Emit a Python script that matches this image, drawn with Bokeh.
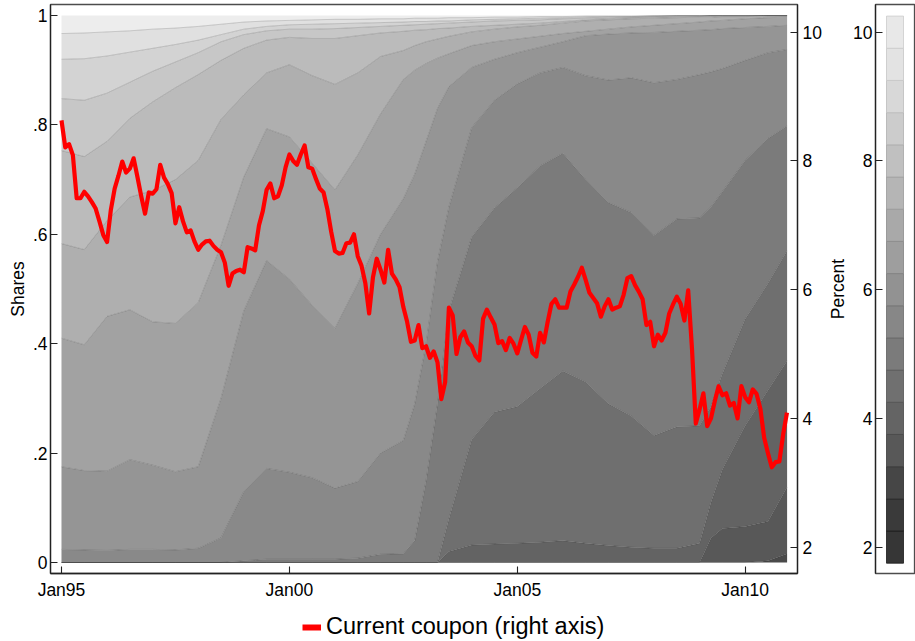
from bokeh.plotting import figure
from bokeh.models import Range1d, LinearAxis, FixedTicker, Legend, LegendItem
from bokeh.layouts import row, column
from bokeh.embed import file_html
from bokeh.resources import INLINE

FONT = "Liberation Sans"

# ---------------- data ----------------
knot_years = [1995.0, 1995.5, 1996.0, 1996.5, 1997.0, 1997.5, 1998.0, 1998.5, 1999.0, 1999.5,
              2000.0, 2000.5, 2001.0, 2001.5, 2002.0, 2002.5, 2002.75, 2003.0, 2003.25, 2003.5,
              2004.0, 2004.5, 2005.0, 2005.5, 2006.0, 2006.5, 2007.0, 2007.5, 2008.0, 2008.5,
              2009.0, 2009.25, 2009.5, 2010.0, 2010.5, 2010.92]

# cumulative share of outstanding MBS with coupon <= level
cum_le_3_0 = [0]*33 + [0.0, 0.003, 0.016]
cum_le_3_5 = [0]*30 + [0.0, 0.045, 0.062, 0.066, 0.075, 0.138]
cum_le_4_0 = [0]*19 + [0.02, 0.032, 0.034, 0.035, 0.037, 0.04, 0.035, 0.031, 0.028, 0.026, 0.026,
                       0.035, 0.11, 0.17, 0.25, 0.315, 0.369]
cum_le_4_5 = [0]*19 + [0.08, 0.225, 0.275, 0.285, 0.318, 0.35, 0.33, 0.29, 0.268, 0.232, 0.248,
                       0.25, 0.285, 0.345, 0.445, 0.51, 0.57]
cum_le_5_0 = [0]*8 + [0.003, 0.006, 0.006, 0.006, 0.006, 0.008, 0.015, 0.016, 0.04, 0.15, 0.29, 0.46,
                      0.595, 0.648, 0.685, 0.725, 0.748, 0.70, 0.658, 0.64, 0.598, 0.628,
                      0.63, 0.65, 0.678, 0.735, 0.775, 0.798]
cum_le_5_5 = [0.024, 0.023, 0.022, 0.024, 0.024, 0.023, 0.026, 0.045, 0.13, 0.172,
              0.165, 0.155, 0.136, 0.148, 0.20, 0.223, 0.29, 0.40, 0.55, 0.65,
              0.795, 0.845, 0.875, 0.895, 0.905, 0.89, 0.882, 0.886, 0.877, 0.883,
              0.892, 0.897, 0.903, 0.918, 0.932, 0.938]
cum_le_6_0 = [0.175, 0.168, 0.167, 0.188, 0.178, 0.166, 0.175, 0.30, 0.46, 0.552,
              0.518, 0.47, 0.428, 0.51, 0.60, 0.665, 0.71, 0.77, 0.83, 0.87,
              0.905, 0.92, 0.932, 0.942, 0.952, 0.963, 0.966, 0.968, 0.969, 0.971,
              0.973, 0.974, 0.976, 0.978, 0.98, 0.982]
cum_le_6_5 = [0.41, 0.398, 0.45, 0.462, 0.44, 0.437, 0.475, 0.58, 0.705, 0.793,
              0.778, 0.73, 0.681, 0.745, 0.82, 0.883, 0.9, 0.912, 0.922, 0.93,
              0.945, 0.952, 0.957, 0.962, 0.967, 0.971, 0.975, 0.979, 0.982, 0.985,
              0.988, 0.99, 0.991, 0.994, 0.996, 0.997]
cum_le_7_0 = [0.583, 0.572, 0.625, 0.668, 0.68, 0.70, 0.735, 0.81, 0.855, 0.895,
              0.91, 0.89, 0.874, 0.895, 0.925, 0.936, 0.945, 0.952, 0.957, 0.962,
              0.97, 0.975, 0.979, 0.982, 0.986, 0.99, 0.992, 0.994, 0.995, 0.996,
              0.997, 0.997, 0.998, 0.998, 0.999, 0.999]
cum_le_7_5 = [0.753, 0.742, 0.77, 0.812, 0.842, 0.868, 0.892, 0.918, 0.94, 0.955,
              0.96, 0.958, 0.958, 0.963, 0.968, 0.971, 0.973, 0.974, 0.976, 0.977,
              0.98, 0.982, 0.984, 0.986, 0.989, 0.992, 0.994, 0.996, 0.997, 0.998,
              0.998, 0.999, 0.999, 0.999, 1.0, 1.0]
cum_le_8_0 = [0.848, 0.845, 0.858, 0.878, 0.898, 0.915, 0.932, 0.952, 0.965, 0.972,
              0.975, 0.975, 0.976, 0.978, 0.98, 0.982, 0.983, 0.984, 0.985, 0.986,
              0.988, 0.99, 0.991, 0.992, 0.994, 0.995, 0.996, 0.997, 0.998, 0.999,
              0.999, 1.0, 1.0, 1.0, 1.0, 1.0]
cum_le_8_5 = [0.92, 0.921, 0.926, 0.933, 0.94, 0.947, 0.955, 0.965, 0.975, 0.98,
              0.983, 0.984, 0.985, 0.986, 0.987, 0.988, 0.989, 0.989, 0.99, 0.99,
              0.992, 0.993, 0.994, 0.995, 0.996, 0.997, 0.998, 0.998, 0.999, 1.0,
              1.0, 1.0, 1.0, 1.0, 1.0, 1.0]
cum_le_9_0 = [0.967, 0.968, 0.97, 0.972, 0.975, 0.977, 0.98, 0.984, 0.988, 0.99,
              0.991, 0.992, 0.993, 0.993, 0.994, 0.994, 0.995, 0.995, 0.995, 0.996,
              0.996, 0.997, 0.997, 0.998, 0.998, 0.999, 0.999, 0.999, 1.0, 1.0,
              1.0, 1.0, 1.0, 1.0, 1.0, 1.0]

cum_shares = [cum_le_3_0, cum_le_3_5, cum_le_4_0, cum_le_4_5, cum_le_5_0, cum_le_5_5,
              cum_le_6_0, cum_le_6_5, cum_le_7_0, cum_le_7_5, cum_le_8_0, cum_le_8_5, cum_le_9_0]

# current coupon (percent), monthly Jan 1995 - Dec 2010
coupon_start_year = 1995.0
current_coupon = [
    8.63, 8.21, 8.26, 8.09, 7.42, 7.42, 7.52, 7.45, 7.36, 7.26, 7.06, 6.85,
    6.74, 7.24, 7.57, 7.77, 7.99, 7.82, 7.88, 8.04, 7.75, 7.45, 7.18, 7.51,
    7.49, 7.56, 7.94, 7.74, 7.64, 7.50, 7.03, 7.28, 7.06, 6.89, 6.92, 6.75,
    6.62, 6.70, 6.75, 6.76, 6.68, 6.62, 6.58, 6.42, 6.06, 6.25, 6.29, 6.31,
    6.27, 6.66, 6.64, 6.61, 7.00, 7.22, 7.55, 7.65, 7.42, 7.45, 7.62, 7.90,
    8.10, 8.00, 7.94, 8.10, 8.24, 7.90, 7.88, 7.72, 7.57, 7.51, 7.25, 6.90,
    6.60, 6.56, 6.57, 6.72, 6.73, 6.86, 6.52, 6.37, 6.10, 5.63, 6.19, 6.48,
    6.31, 6.11, 6.62, 6.25, 6.16, 6.04, 5.73, 5.50, 5.19, 5.21, 5.45, 5.09,
    5.12, 4.94, 5.04, 4.87, 4.30, 4.56, 5.72, 5.60, 5.00, 5.26, 5.35, 5.18,
    5.12, 4.97, 4.90, 5.55, 5.69, 5.57, 5.46, 5.17, 5.20, 5.06, 5.25, 5.16,
    5.01, 5.22, 5.42, 5.30, 5.02, 4.96, 5.33, 5.18, 5.50, 5.78, 5.85, 5.72,
    5.72, 5.72, 5.97, 6.08, 6.20, 6.34, 6.15, 5.95, 5.87, 5.79, 5.58, 5.74,
    5.85, 5.69, 5.72, 5.74, 5.92, 6.18, 6.21, 6.07, 5.97, 5.85, 5.45, 5.50,
    5.12, 5.30, 5.21, 5.33, 5.63, 5.77, 5.89, 5.78, 5.52, 5.99, 5.08, 3.92,
    4.14, 4.39, 3.88, 4.00, 4.27, 4.50, 4.36, 4.39, 4.20, 4.24, 4.00, 4.50,
    4.33, 4.25, 4.45, 4.38, 4.15, 3.70, 3.46, 3.24, 3.32, 3.33, 3.75, 4.09,
]

share_ticks = [0, 0.2, 0.4, 0.6, 0.8, 1.0]
share_tick_labels = ["0", ".2", ".4", ".6", ".8", "1"]
date_ticks = [1995, 2000, 2005, 2010]
date_tick_labels = ["Jan95", "Jan00", "Jan05", "Jan10"]
pct_ticks = [2, 4, 6, 8, 10]
colorbar_levels = [2.0, 2.5, 3.0, 3.5, 4.0, 4.5, 5.0, 5.5, 6.0, 6.5, 7.0, 7.5, 8.0, 8.5, 9.0, 9.5, 10.0]
legend_label = "Current coupon (right axis)"

# ---------------- styles ----------------
def gray(v):
    return "#%02x%02x%02x" % (v, v, v)

region_colors = [gray(v) for v in (0x4a, 0x58, 0x63, 0x6f, 0x7b, 0x89, 0x95, 0xa2,
                                   0xaf, 0xbb, 0xc7, 0xd3, 0xe0, 0xed)]
bar_levels_gray = (0x36, 0x3a, 0x46, 0x58, 0x64, 0x70, 0x7b, 0x87, 0x92,
                   0x9e, 0xa9, 0xb5, 0xc0, 0xcc, 0xd8, 0xe3, 0xe8)
bar_colors = [gray(v) for v in bar_levels_gray]
bar_edges = [gray(max(v - 28, 0)) for v in bar_levels_gray]
AX = "#222222"
FS = "17.5px"
PCT_RANGE = (1.59, 10.43)


def style_axis(ax):
    ax.major_tick_in = 7
    ax.major_tick_out = 0
    ax.minor_tick_in = 0
    ax.minor_tick_out = 0
    ax.axis_line_color = AX
    ax.axis_line_width = 1.3
    ax.major_tick_line_color = AX
    ax.major_tick_line_width = 1.1
    ax.major_label_text_font = FONT
    ax.major_label_text_font_size = FS
    ax.major_label_text_color = "black"
    ax.axis_label_text_font = FONT
    ax.axis_label_text_font_size = FS
    ax.axis_label_text_font_style = "normal"
    ax.axis_label_text_color = "black"


# ---------------- main chart ----------------
main = figure(width=824, height=603,
              x_range=Range1d(1994.759, 2011.148), y_range=Range1d(-0.0201, 1.0201),
              output_backend="svg", toolbar_location=None,
              min_border_left=50, min_border_right=26, min_border_top=4, min_border_bottom=30,
              background_fill_color="white", border_fill_color="white")
main.extra_y_ranges = {"pct": Range1d(*PCT_RANGE)}
main.xgrid.visible = False
main.ygrid.visible = False
main.outline_line_color = "#4d4d4d"
main.outline_line_width = 1.3

zeros = [0.0] * len(knot_years)
ones = [1.0] * len(knot_years)
bounds = [zeros] + cum_shares + [ones]
for i in range(len(bounds) - 1):
    main.varea(x=knot_years, y1=bounds[i], y2=bounds[i + 1], fill_color=region_colors[i])
for cum in cum_shares:
    main.line(x=knot_years, y=cum, line_color="black", line_alpha=0.17, line_width=1)

months_x = [coupon_start_year + i / 12.0 for i in range(len(current_coupon))]
main.line(x=months_x, y=current_coupon, y_range_name="pct",
          line_color="#ff0000", line_width=4.2, line_join="round")

xa = main.xaxis[0]
xa.ticker = FixedTicker(ticks=date_ticks)
xa.major_label_overrides = dict(zip(date_ticks, date_tick_labels))
style_axis(xa)
xa.major_label_standoff = 6

ya = main.yaxis[0]
ya.ticker = FixedTicker(ticks=share_ticks)
ya.major_label_overrides = dict(zip(share_ticks, share_tick_labels))
ya.axis_label = "Shares"
style_axis(ya)
ya.major_label_standoff = 3
ya.axis_label_standoff = 2

ra = LinearAxis(y_range_name="pct", ticker=FixedTicker(ticks=pct_ticks))
style_axis(ra)
ra.major_label_standoff = 5
main.add_layout(ra, "right")

# ---------------- colour bar ----------------
cb = figure(width=91, height=603, x_range=Range1d(0, 39), y_range=Range1d(*PCT_RANGE),
            output_backend="svg", toolbar_location=None, x_axis_location=None,
            min_border_left=51, min_border_right=1, min_border_top=4, min_border_bottom=30,
            background_fill_color="white", border_fill_color="white")
cb.xgrid.visible = False
cb.ygrid.visible = False
cb.outline_line_color = "#4d4d4d"
cb.outline_line_width = 1.3
cb.quad(left=11, right=28,
        bottom=[lv - 0.25 for lv in colorbar_levels], top=[lv + 0.25 for lv in colorbar_levels],
        fill_color=bar_colors, line_color=bar_edges, line_width=0.8)
ca = cb.yaxis[0]
ca.ticker = FixedTicker(ticks=pct_ticks)
ca.axis_label = "Percent"
style_axis(ca)
ca.major_label_standoff = 3
ca.axis_label_standoff = 2

# ---------------- legend ----------------
lg = figure(width=915, height=38, x_range=Range1d(0, 1), y_range=Range1d(0, 1),
            output_backend="svg", toolbar_location=None,
            x_axis_location=None, y_axis_location=None, min_border=0,
            outline_line_color=None, background_fill_color="white", border_fill_color="white")
lg.xgrid.visible = False
lg.ygrid.visible = False
# legend proxy: same style as the coupon line, its segment lies outside the visible range
proxy = lg.line(x=[0, 1], y=[-5, -5], line_color="#ff0000", line_width=6)
legend = Legend(items=[LegendItem(label=legend_label, renderers=[proxy])],
                location=(302, 1), orientation="horizontal", padding=0, margin=0,
                border_line_color=None, background_fill_alpha=0,
                glyph_width=19, glyph_height=24, label_standoff=5, label_height=24,
                label_text_font=FONT, label_text_font_size="23.5px", label_text_color="black")
lg.add_layout(legend)

layout = column(row(main, cb), lg)
open("out.html", "w").write(file_html(layout, INLINE))
